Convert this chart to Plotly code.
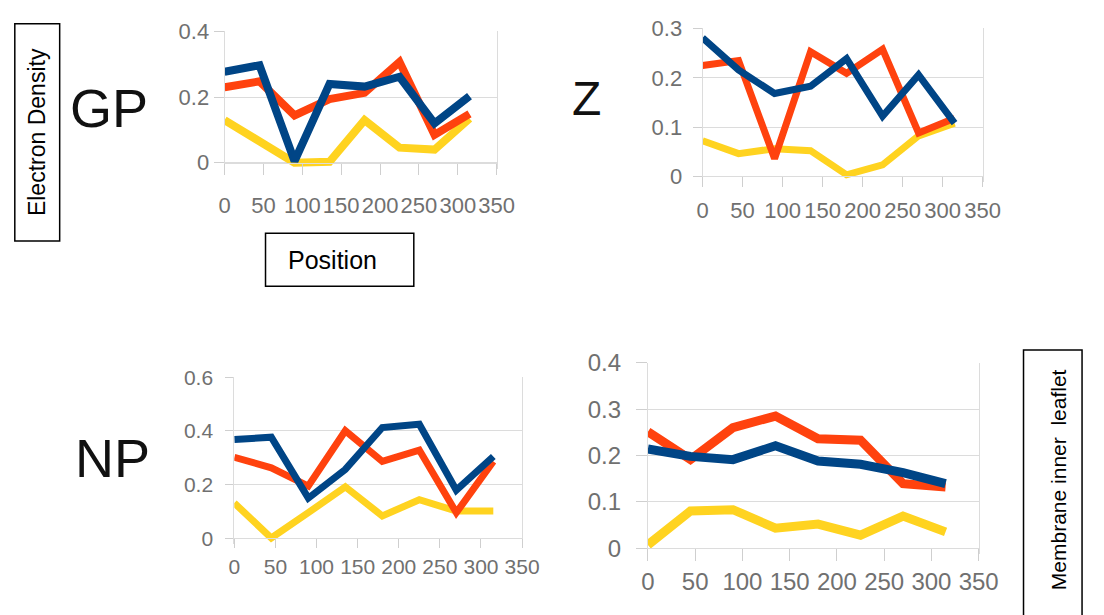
import plotly.graph_objects as go

# ---------------- data ----------------
positions = [0, 45, 90, 135, 180, 225, 270, 315]

gp_blue = [0.277, 0.297, 0.005, 0.240, 0.232, 0.262, 0.120, 0.203]
gp_red = [0.230, 0.248, 0.144, 0.194, 0.213, 0.307, 0.085, 0.149]
gp_yellow = [0.130, 0.065, 0.000, 0.003, 0.130, 0.046, 0.040, 0.135]

z_blue = [0.281, 0.216, 0.168, 0.183, 0.239, 0.122, 0.206, 0.108]
z_red = [0.225, 0.235, 0.036, 0.253, 0.209, 0.258, 0.088, 0.118]
z_yellow = [0.072, 0.046, 0.056, 0.052, 0.003, 0.023, 0.082, 0.108]

np_blue = [0.368, 0.377, 0.150, 0.257, 0.413, 0.425, 0.180, 0.305]
np_red = [0.302, 0.263, 0.195, 0.401, 0.287, 0.329, 0.096, 0.287]
np_yellow = [0.132, 0.002, 0.096, 0.192, 0.084, 0.144, 0.102, 0.102]

il_blue = [0.214, 0.198, 0.191, 0.221, 0.188, 0.181, 0.163, 0.139]
il_red = [0.251, 0.191, 0.260, 0.285, 0.236, 0.233, 0.139, 0.132]
il_yellow = [0.007, 0.080, 0.083, 0.043, 0.052, 0.028, 0.069, 0.035]

x_ticks = [0, 50, 100, 150, 200, 250, 300, 350]

# ---------------- style ----------------
W, H = 1104, 615
BLUE, RED, YELLOW = "#004586", "#ff420e", "#ffd320"
GRID = "#dcdcdc"
TICKC = "#cfcfcf"
LABELC = "#707070"
FONT = "Liberation Sans, Arial, sans-serif"

panels = [
    dict(x0=223, x1=502, y0=154, yt=18, top=0.4, dt=0.2, fs=22, lw=8, xs=12, ys=0, tl=11,
         data=(gp_yellow, gp_red, gp_blue)),
    dict(x0=713, x1=1000, y0=168, yt=15, top=0.3, dt=0.1, fs=22, lw=7, xs=4, ys=6, tl=10,
         data=(z_yellow, z_red, z_blue)),
    dict(x0=233, x1=528, y0=543, yt=376, top=0.6, dt=0.2, fs=21, lw=7, xs=0, ys=8, tl=9,
         data=(np_yellow, np_red, np_blue)),
    dict(x0=657, x1=996, y0=553, yt=361, top=0.4, dt=0.1, fs=24, lw=9, xs=0, ys=10, tl=12,
         data=(il_yellow, il_red, il_blue)),
]

fig = go.Figure()
PAD = 6  # px of room below zero so thick lines are not clipped

layout_axes = {}
for i, p in enumerate(panels, start=1):
    xa = "x" if i == 1 else f"x{i}"
    ya = "y" if i == 1 else f"y{i}"
    yscale = (p["y0"] - p["yt"]) / p["top"]
    ylo = -PAD / yscale
    yhi = p["top"] * 1.0005
    for vals, col in zip(p["data"], (YELLOW, RED, BLUE)):
        fig.add_trace(go.Scatter(x=positions, y=vals, mode="lines",
                                 line=dict(color=col, width=p["lw"]),
                                 xaxis=xa, yaxis=ya, showlegend=False,
                                 hoverinfo="skip"))
    xkey = "xaxis" if i == 1 else f"xaxis{i}"
    ykey = "yaxis" if i == 1 else f"yaxis{i}"
    layout_axes[xkey] = dict(
        domain=[p["x0"] / W, p["x1"] / W], range=[0, 350],
        tickvals=x_ticks, tickangle=0, showgrid=False, zeroline=False,
        anchor="free", position=1 - p["y0"] / H,
        showline=True, linecolor=GRID, linewidth=1,
        ticks="outside", ticklen=p["tl"], tickcolor=TICKC, tickwidth=1,
        tickfont=dict(family=FONT, size=p["fs"], color=LABELC),
        ticklabelstandoff=p["xs"], fixedrange=True,
    )
    layout_axes[ykey] = dict(
        domain=[1 - (p["y0"] + PAD) / H, 1 - p["yt"] / H], range=[ylo, yhi],
        dtick=p["dt"], tick0=0, showgrid=True, gridcolor=GRID, gridwidth=1,
        zeroline=False, anchor=xa, showline=True, linecolor=GRID, mirror=True,
        ticks="outside", ticklen=p["tl"] - 1, tickcolor=TICKC, tickwidth=1,
        tickfont=dict(family=FONT, size=p["fs"], color=LABELC),
        ticklabelstandoff=p["ys"], fixedrange=True,
    )


def px(xp):
    return xp / W


def py(yp):
    return 1 - yp / H


annotations = [
    dict(text="Electron Density", x=px(31), y=py(122), textangle=-90,
         font=dict(family=FONT, size=23, color="black")),
    dict(text="GP", x=px(105), y=py(97), font=dict(family=FONT, size=54, color="#111")),
    dict(text="Z", x=px(594), y=py(88), font=dict(family=FONT, size=48, color="#111")),
    dict(text="NP", x=px(108), y=py(460), font=dict(family=FONT, size=54, color="#111")),
    dict(text="Position", x=px(334), y=py(255), font=dict(family=FONT, size=25, color="black")),
    dict(text="Membrane inner\u00a0 leaflet", x=px(1078), y=py(482), textangle=-90,
         font=dict(family=FONT, size=21, color="black")),
]
for a in annotations:
    a.update(xref="paper", yref="paper", showarrow=False, xanchor="center", yanchor="middle")

shapes = [
    dict(type="rect", x0=px(8), x1=px(54), y0=py(235), y1=py(10)),
    dict(type="rect", x0=px(265), x1=px(417), y0=py(282), y1=py(227)),
    dict(type="rect", x0=px(1042), x1=px(1102), y0=py(625), y1=py(348)),
]
for s in shapes:
    s.update(xref="paper", yref="paper", line=dict(color="black", width=1.5),
             fillcolor="rgba(0,0,0,0)")

fig.update_layout(
    width=W, height=H, margin=dict(l=0, r=0, t=0, b=0),
    paper_bgcolor="white", plot_bgcolor="white",
    annotations=annotations, shapes=shapes, **layout_axes,
)

fig.write_html("out.html", config={"displayModeBar": False})
